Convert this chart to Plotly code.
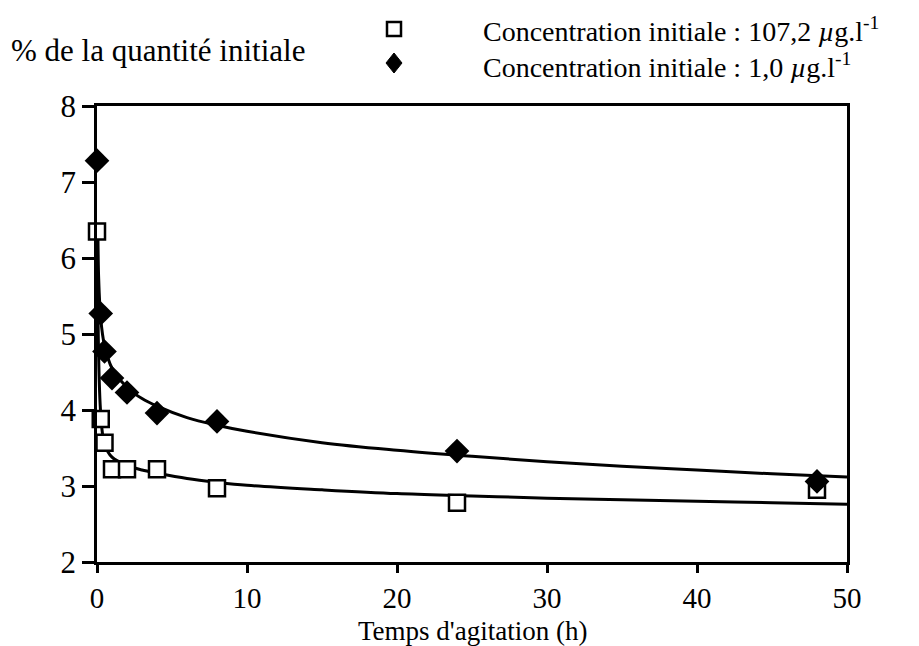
import plotly.graph_objects as go

# Data points
t_pts = [0, 0.25, 0.5, 1, 2, 4, 8, 24, 48]
high_conc = [6.35, 3.88, 3.57, 3.22, 3.22, 3.22, 2.97, 2.78, 2.95]   # 107,2 µg/l (squares)
low_conc = [7.28, 5.27, 4.77, 4.42, 4.23, 3.96, 3.85, 3.46, 3.06]    # 1,0 µg/l (diamonds)

# Fitted curves
curve_t = [0.05, 0.1, 0.25, 0.5, 1, 2, 3, 4, 6, 8, 10, 15, 20, 25, 30, 35, 40, 45, 50]
curve_low = [6.3, 5.8, 5.2, 4.85, 4.55, 4.3, 4.15, 4.05, 3.9, 3.8, 3.72, 3.57, 3.47, 3.39, 3.32, 3.26, 3.21, 3.16, 3.12]
curve_high = [6.3, 4.8, 3.95, 3.55, 3.38, 3.27, 3.21, 3.17, 3.1, 3.05, 3.01, 2.95, 2.9, 2.87, 2.84, 2.82, 2.8, 2.78, 2.76]

x_ticks = [0, 10, 20, 30, 40, 50]
y_ticks = [2, 3, 4, 5, 6, 7, 8]

FONT = "Liberation Serif"

fig = go.Figure()
fig.add_trace(go.Scatter(x=curve_t, y=curve_low, mode="lines",
                         line=dict(color="black", width=3, shape="spline"), showlegend=False))
fig.add_trace(go.Scatter(x=curve_t, y=curve_high, mode="lines",
                         line=dict(color="black", width=3, shape="spline"), showlegend=False))
fig.add_trace(go.Scatter(x=t_pts, y=high_conc, mode="markers",
                         marker=dict(symbol="square", size=16, color="white",
                                     line=dict(color="black", width=2.5)),
                         showlegend=False, cliponaxis=False))
fig.add_trace(go.Scatter(x=t_pts, y=low_conc, mode="markers",
                         marker=dict(symbol="diamond", size=19, color="black",
                                     line=dict(color="black", width=0)),
                         showlegend=False, cliponaxis=False))

# screen pixel -> paper coords (plot area on screen: x 97..847, y 106..562)
def px2x(px):
    return (px - 97) / 750.0

def py2y(py):
    return (562 - py) / 456.0

fig.add_shape(type="rect", xref="paper", yref="paper",
              x0=px2x(387), x1=px2x(401), y0=py2y(36), y1=py2y(22),
              line=dict(color="black", width=2.5), fillcolor="white")
cx, cy = 394, 63
fig.add_shape(type="path", xref="paper", yref="paper",
              path=f"M {px2x(cx-8)} {py2y(cy)} L {px2x(cx)} {py2y(cy-10)} L {px2x(cx+8)} {py2y(cy)} L {px2x(cx)} {py2y(cy+10)} Z",
              line=dict(color="black", width=1), fillcolor="black")

fig.add_annotation(x=px2x(481), y=py2y(29), xref="paper", yref="paper",
                   text="Concentration initiale : 107,2 <i>µ</i>g.l<sup>-1</sup>",
                   showarrow=False, xanchor="left", yanchor="middle",
                   font=dict(family=FONT, size=28, color="black"))
fig.add_annotation(x=px2x(481), y=py2y(65), xref="paper", yref="paper",
                   text="Concentration initiale : 1,0 <i>µ</i>g.l<sup>-1</sup>",
                   showarrow=False, xanchor="left", yanchor="middle",
                   font=dict(family=FONT, size=28, color="black"))
fig.add_annotation(x=px2x(9), y=py2y(50), xref="paper", yref="paper",
                   text="% de la quantité initiale",
                   showarrow=False, xanchor="left", yanchor="middle",
                   font=dict(family=FONT, size=31, color="black"))
fig.add_annotation(x=0.5, y=py2y(631), xref="paper", yref="paper",
                   text="Temps d'agitation (h)",
                   showarrow=False, xanchor="center", yanchor="middle",
                   font=dict(family=FONT, size=27, color="black"))

fig.update_xaxes(range=[0, 50], tickvals=x_ticks, ticktext=[str(v) for v in x_ticks],
                 showgrid=False, zeroline=False, showline=True, linecolor="black", linewidth=2.5,
                 mirror=True, ticks="outside", ticklen=8, tickwidth=2.5, tickcolor="black",
                 tickfont=dict(family=FONT, size=29, color="black"))
fig.update_yaxes(range=[2, 8], tickvals=y_ticks, ticktext=[str(v) for v in y_ticks],
                 showgrid=False, zeroline=False, showline=True, linecolor="black", linewidth=2.5,
                 mirror=True, ticks="outside", ticklen=12, tickwidth=2.5, tickcolor="black",
                 tickfont=dict(family=FONT, size=31, color="black"))

# The page body has an 8px default margin, so the figure is sized/offset to compensate.
fig.update_layout(width=911, height=638, plot_bgcolor="white", paper_bgcolor="white",
                  margin=dict(l=89, r=72, t=98, b=84), showlegend=False,
                  font=dict(family=FONT, color="black"))

fig.write_html("out.html")
